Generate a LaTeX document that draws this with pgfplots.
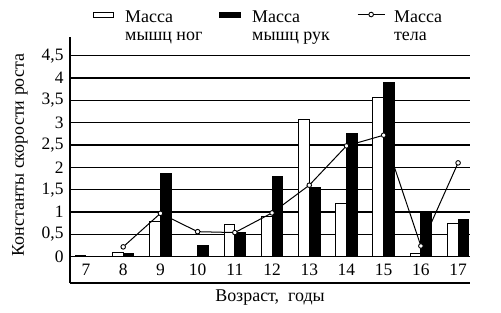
\documentclass[border=0pt]{standalone}
\usepackage{pgfplots}
\pgfplotsset{compat=1.18}
\usepackage{fontspec}
\setmainfont{Liberation Serif}
\begin{document}
\begin{tikzpicture}
\useasboundingbox (-70bp,-30bp) rectangle (431bp,283bp);
\begin{axis}[
  at={(0,0)}, anchor=south west,
  scale only axis, width=400bp, height=246bp,
  xmin=6.57, xmax=17.32, ymin=-0.589, ymax=4.918,
  axis x line=bottom, axis y line=left,
  axis line style={-, line width=1.3bp},
  xtick={7,8,9,10,11,12,13,14,15,16,17},
  ytick={0,0.5,1,1.5,2,2.5,3,3.5,4,4.5},
  major tick length=0pt,
  ymajorgrids, grid style={black, line width=1.1bp},
  /pgf/number format/use comma, /pgf/number format/assume math mode=true,
  tick label style={font=\fontsize{17.5}{17.5}\selectfont},
  xticklabel style={anchor=center, yshift=13bp},
  yticklabel style={anchor=east, xshift=-3bp},
  xlabel={Возраст,\ \ годы},
  xlabel style={at={(axis description cs:0.5,-0.061)}, anchor=center, font=\fontsize{18}{18}\selectfont},
  ylabel={Константы скорости роста},
  ylabel style={at={(axis description cs:-0.125,0.52)}, anchor=center, font=\fontsize{18}{18}\selectfont},
  legend columns=3,
  legend cell align=left,
  legend style={at={(axis description cs:0.0575,1.115)}, anchor=north west, draw=none, fill=none, inner sep=0pt,
    font=\fontsize{18}{15.5}\selectfont,
    /tikz/column 1/.style={column sep=9bp},
    /tikz/column 2/.style={column sep=3bp},
    /tikz/column 3/.style={column sep=9bp},
    /tikz/column 4/.style={column sep=3bp},
    /tikz/column 5/.style={column sep=7bp}},
]
\addplot[ybar, bar width=0.29, bar shift=-0.145, draw=black, fill=white, line width=1bp,
  legend image code/.code={\draw[black, fill=white, line width=1bp] (0bp,0.5bp) rectangle (20bp,5.5bp);}]
  coordinates {(7,0.02)(8,0.1)(9,0.78)(10,0)(11,0.73)(12,0.9)(13,3.06)(14,1.19)(15,3.57)(16,0.07)(17,0.75)};
\addlegendentry{\begin{tabular}[t]{@{}p{89bp}@{}}Масса\\[2bp]мышц ног\end{tabular}}
\addplot[ybar, bar width=0.29, bar shift=0.145, draw=black, fill=black, line width=1bp,
  legend image code/.code={\draw[black, fill=black, line width=1bp] (0bp,0.5bp) rectangle (21bp,5.5bp);}]
  coordinates {(7,0)(8,0.07)(9,1.87)(10,0.24)(11,0.54)(12,1.79)(13,1.56)(14,2.75)(15,3.9)(16,1.0)(17,0.84)};
\addlegendentry{\begin{tabular}[t]{@{}p{100bp}@{}}Масса\\[2bp]мышц рук\end{tabular}}
\addplot[black, line width=1bp, mark=*, mark size=2.3bp, mark options={fill=white, line width=0.9bp},
  legend image code/.code={\draw[black, line width=1bp] (0bp,3bp) -- (27bp,3bp); \draw[black, fill=white, line width=0.9bp] (13.5bp,3bp) circle (2.3bp);}]
  coordinates {(8,0.22)(9,0.97)(10,0.56)(11,0.54)(12,0.98)(13,1.6)(14,2.48)(15,2.72)(16,0.24)(17,2.1)};
\addlegendentry{\begin{tabular}[t]{@{}l@{}}Масса\\[2bp]тела\end{tabular}}
\end{axis}
\end{tikzpicture}
\end{document}
